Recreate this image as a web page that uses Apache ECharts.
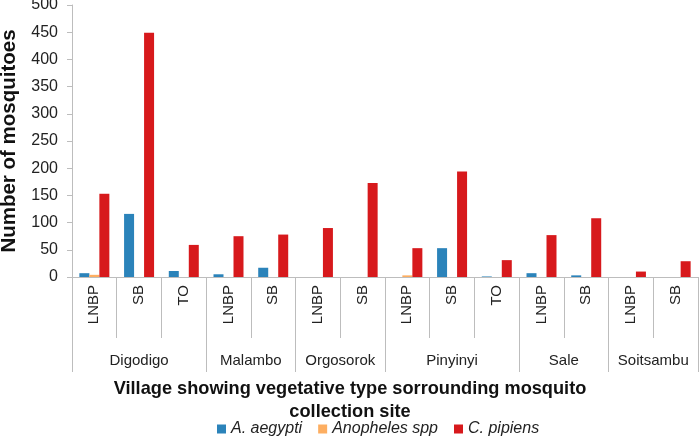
<!DOCTYPE html>
<html>
<head>
<meta charset="utf-8">
<script src="https://cdn.jsdelivr.net/npm/echarts@6/dist/echarts.min.js"></script>
<style>html,body{margin:0;padding:0;background:#fff}#c{width:700px;height:443px}</style>
</head>
<body>
<div id="c"></div>
<script>
const subCategories = ['LNBP','SB','TO','LNBP','SB','LNBP','SB','LNBP','SB','TO','LNBP','SB','LNBP','SB'];
const villages = ['Digodigo','Malambo','Orgosorok','Pinyinyi','Sale','Soitsambu'];
const villageSizes = [3,2,2,3,2,2];
const seriesNames = ['A. aegypti','Anopheles spp','C. pipiens'];
const aAegypti   = [7,116,11,5,17,0,0,0,53,1,7,3,0,0];
const anopheles  = [4,0,0,0,0,0,0,3,0,0,0,0,0,0];
const cPipiens   = [153,449,59,75,78,90,173,53,194,31,77,108,10,29];
const yTicks = [0,50,100,150,200,250,300,350,400,450,500];

// village boundaries / centres in half-category units
const bounds = [0]; const centres = [];
villageSizes.forEach(s => { const start = bounds[bounds.length-1]; centres.push(start + s); bounds.push(start + 2*s); });
const totalHalf = bounds[bounds.length-1];

const font = 'Liberation Sans, Arial, Helvetica, sans-serif';
const gray = '#bdbdbd';
const chart = echarts.init(document.getElementById('c'));
chart.setOption({
  animation: false,
  textStyle: { fontFamily: font },
  color: ['#2b83ba','#fdae61','#d7191c'],
  grid: { left: 72, right: 2, top: 5, bottom: 166, containLabel: false, outerBoundsMode: 'none' },
  legend: {
    data: seriesNames, left: 212, top: 416, itemWidth: 9, itemHeight: 9, itemGap: 16,
    icon: 'rect',
    textStyle: { fontStyle: 'italic', fontSize: 16, color: '#222', fontFamily: font }
  },
  xAxis: [
    {
      type: 'category', data: subCategories, position: 'bottom',
      axisLine: { show: true, lineStyle: { color: gray, width: 1 } },
      axisTick: { show: true, length: 61, lineStyle: { color: gray } },
      axisLabel: { rotate: 90, fontSize: 15, color: '#222', margin: 8, interval: 0, fontFamily: font }
    },
    {
      type: 'value', min: 0, max: totalHalf, position: 'bottom', gridIndex: 0,
      axisLine: { show: false },
      splitLine: { show: false },
      axisTick: { show: true, length: 95, customValues: bounds, lineStyle: { color: gray } },
      axisLabel: {
        customValues: centres, margin: 76, fontSize: 15, color: '#222', fontFamily: font,
        formatter: v => villages[centres.indexOf(v)] || ''
      },
      name: 'Village showing vegetative type sorrounding mosquito\ncollection site',
      nameLocation: 'middle', nameGap: 100,
      nameTextStyle: { fontSize: 18.2, fontWeight: 'bold', color: '#111', lineHeight: 23, fontFamily: font,
        padding: [0, 70, 0, 0] }
    }
  ],
  yAxis: {
    type: 'value', min: 0, max: 500, interval: 50,
    axisLine: { show: true, lineStyle: { color: gray } },
    axisTick: { show: true, length: 5, lineStyle: { color: gray } },
    splitLine: { show: false },
    axisLabel: { fontSize: 16, color: '#222', margin: 14, fontFamily: font,
      formatter: v => yTicks.includes(v) ? String(v) : '' },
    name: 'Number of mosquitoes', nameLocation: 'middle', nameGap: 52,
    nameTextStyle: { fontSize: 20.5, fontWeight: 'bold', color: '#111', fontFamily: font }
  },
  series: [
    { name: seriesNames[0], type: 'bar', xAxisIndex: 0, data: aAegypti, barWidth: 10, barGap: '0%' },
    { name: seriesNames[1], type: 'bar', xAxisIndex: 0, data: anopheles, barWidth: 10, barGap: '0%' },
    { name: seriesNames[2], type: 'bar', xAxisIndex: 0, data: cPipiens, barWidth: 10, barGap: '0%' }
  ]
});
</script>
</body>
</html>
